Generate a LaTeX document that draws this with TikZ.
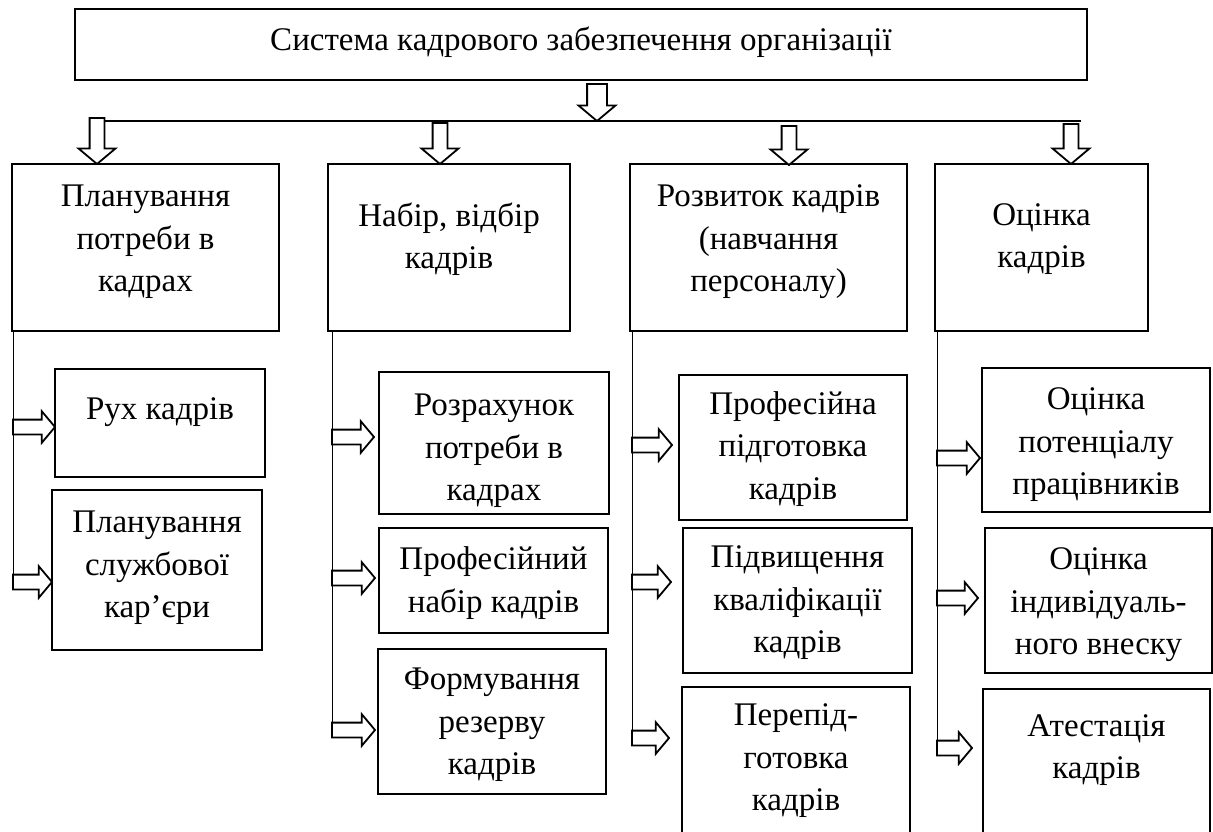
\documentclass[tikz,border=0pt]{standalone}
\usepackage{fontspec}
\setmainfont{Liberation Serif}
\usetikzlibrary{shapes.arrows,calc}
\begin{document}
\begin{tikzpicture}[x=1pt,y=-1pt,
  box/.style={draw, line width=2.2pt, rectangle, inner sep=0pt, outer sep=0pt},
  txt/.style={font=\fontsize{33}{42.5}\selectfont, align=center, inner sep=0pt},
  blockarrow/.style={single arrow, draw, fill=white, line width=1.8pt,
    single arrow tip angle=100, outer sep=0pt, minimum width=0pt},
  harrow/.style={blockarrow, inner xsep=0pt, inner ysep=6.5pt, single arrow head extend=8.5pt},
  darrow/.style={blockarrow, shape border rotate=270, inner ysep=0pt, inner xsep=6.5pt,
    single arrow head extend=11pt},
  vline/.style={line width=1pt},
  bus/.style={line width=1.3pt}]
\clip (0,0) rectangle (1213,831);

% top box
\node[box, minimum width=1012, minimum height=71] (top) at (581,44.5) {};
\node[txt] (ttop) at (top.center |- 0,42) {Система кадрового забезпечення організації};

% column boxes
\node[box, minimum width=267, minimum height=167] (c1) at (145.5,247.5) {};
\node[box, minimum width=242, minimum height=167] (c2) at (449,247.5) {};
\node[box, minimum width=277, minimum height=167] (c3) at (768.5,247.5) {};
\node[box, minimum width=213, minimum height=167] (c4) at (1041.5,247.5) {};
\node[txt] (tc1) at (c1.center |- 0,242) {Планування\\потреби в\\кадрах};
\node[txt] (tc2) at (c2.center |- 0,239) {Набір, відбір\\кадрів};
\node[txt] (tc3) at (c3.center |- 0,242) {Розвиток кадрів\\(навчання\\персоналу)};
\node[txt] (tc4) at (c4.center |- 0,239) {Оцінка\\кадрів};

% main arrow and bus
\node[darrow, anchor=tail, minimum height=37, inner xsep=9pt, single arrow head extend=8.5pt]
  (a0) at ($(top.south -| 597,0)+(0,4)$) {};
\coordinate (busR) at (1081,121);
\draw[bus] (a0.tip -| 97,0) -- (busR);

% column arrows
\node[darrow, anchor=tip, minimum height=46] (ca1) at (c1.north -| 97,0) {};
\node[darrow, anchor=tip, minimum height=41] (ca2) at (c2.north -| 440,0) {};
\node[darrow, anchor=tip, minimum height=39] (ca3) at ($(c3.north -| 789,0)+(0,1)$) {};
\node[darrow, anchor=tip, minimum height=40] (ca4) at (c4.north -| 1071,0) {};

% sub boxes
\node[box, minimum width=210, minimum height=108] (s11) at (160,423) {};
\node[txt] (t11) at (s11.center |- 0,412) {Рух кадрів};
\node[box, minimum width=210, minimum height=160] (s12) at (157,570) {};
\node[txt] (t12) at (s12.center |- 0,568) {Планування\\службової\\кар’єри};

\node[box, minimum width=230, minimum height=142] (s21) at (494,443) {};
\node[txt] (t21) at (s21.center |- 0,451) {Розрахунок\\потреби в\\кадрах};
\node[box, minimum width=229, minimum height=105] (s22) at (493.5,580.5) {};
\node[txt] (t22) at (s22.center |- 0,583) {Професійний\\набір кадрів};
\node[box, minimum width=228, minimum height=145] (s23) at (492,721.5) {};
\node[txt] (t23) at (s23.center |- 0,725) {Формування\\резерву\\кадрів};

\node[box, minimum width=228, minimum height=145] (s31) at (793,447.5) {};
\node[txt] (t31) at (s31.center |- 0,449) {Професійна\\підготовка\\кадрів};
\node[box, minimum width=229, minimum height=145] (s32) at (797.5,600.5) {};
\node[txt] (t32) at (s32.center |- 0,603) {Підвищення\\кваліфікації\\кадрів};
\node[box, minimum width=228, minimum height=173] (s33) at (796,773.5) {};
\node[txt] (t33) at (s33.center |- 0,761) {Перепід-\\готовка\\кадрів};

\node[box, minimum width=228, minimum height=144] (s41) at (1096,440) {};
\node[txt] (t41) at (s41.center |- 0,445) {Оцінка\\потенціалу\\працівників};
\node[box, minimum width=227, minimum height=145] (s42) at (1098.5,600.5) {};
\node[txt] (t42) at (s42.center |- 0,605) {Оцінка\\індивідуаль-\\ного внеску};
\node[box, minimum width=227, minimum height=171] (s43) at (1096.5,774.5) {};
\node[txt] (t43) at (s43.center |- 0,750) {Атестація\\кадрів};

% vertical line coordinates
\coordinate (v1) at ($(c1.south west)+(1,0)$);
\coordinate (v2) at ($(c2.south west)+(4,0)$);
\coordinate (v3) at ($(c3.south west)+(2,0)$);
\coordinate (v4) at ($(c4.south west)+(2,0)$);

% side arrows
\node[harrow, anchor=tail, minimum height=42] (a11) at (v1 |- 0,427) {};
\node[harrow, anchor=tail, minimum height=39] (a12) at (v1 |- 0,582) {};
\node[harrow, anchor=tail, minimum height=42] (a21) at (v2 |- 0,437) {};
\node[harrow, anchor=tail, minimum height=43] (a22) at (v2 |- 0,578) {};
\node[harrow, anchor=tail, minimum height=43] (a23) at (v2 |- 0,730) {};
\node[harrow, anchor=tail, minimum height=40] (a31) at (v3 |- 0,445) {};
\node[harrow, anchor=tail, minimum height=39] (a32) at (v3 |- 0,582) {};
\node[harrow, anchor=tail, minimum height=37] (a33) at (v3 |- 0,738) {};
\node[harrow, anchor=tail, minimum height=43] (a41) at (v4 |- 0,458) {};
\node[harrow, anchor=tail, minimum height=41] (a42) at (v4 |- 0,598) {};
\node[harrow, anchor=tail, minimum height=35] (a43) at (v4 |- 0,748) {};

% vertical lines
\draw[vline] (v1) -- (a12.tail);
\draw[vline] (v2) -- (a23.tail);
\draw[vline] (v3) -- (a33.tail);
\draw[vline] (v4) -- (a43.tail);
\end{tikzpicture}
\end{document}
